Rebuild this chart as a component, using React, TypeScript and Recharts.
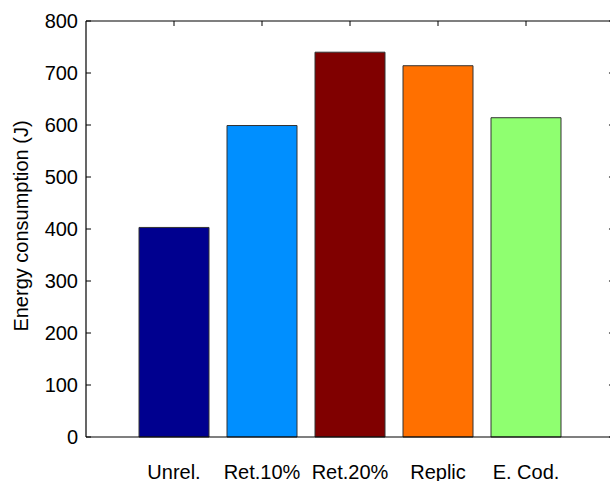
import { ComposedChart, Bar, Cell, XAxis, YAxis, Label, ReferenceLine } from 'recharts';

const categories = ['Unrel.', 'Ret.10%', 'Ret.20%', 'Replic', 'E. Cod.'];
const energy = [403, 599, 740, 714, 614];
const barColors = ['#00008f', '#008fff', '#800000', '#ff7000', '#8fff70'];
const yTicks = [0, 100, 200, 300, 400, 500, 600, 700, 800];
const xTicks = [1, 2, 3, 4, 5];

const data = categories.map((name, i) => ({ pos: i + 1, name, value: energy[i] }));

const FONT = '"Liberation Sans", Arial, Helvetica, sans-serif';
// inward tick length, in axis units (about 5px on each axis)
const X_TICK_LEN = 0.057;
const Y_TICK_LEN = 9.6;

export default function App() {
  return (
    <div style={{ position: 'absolute', left: 0, top: 0, width: 610, height: 481, overflow: 'hidden', background: '#fff' }}>
      <ComposedChart
        width={620}
        height={481}
        data={data}
        margin={{ top: 20, right: 6, bottom: 0, left: 0 }}
        style={{ fontFamily: FONT }}
      >
        <XAxis
          xAxisId="bottom"
          dataKey="pos"
          type="number"
          domain={[0, 6]}
          ticks={xTicks}
          height={44}
          tickSize={0}
          tickMargin={28}
          tickLine={false}
          tickFormatter={(v: number) => categories[v - 1] ?? ''}
          tick={{ fill: '#000', fontSize: 20 }}
          axisLine={{ stroke: '#000', strokeWidth: 1.2 }}
        />
        <XAxis
          xAxisId="top"
          dataKey="pos"
          type="number"
          orientation="top"
          domain={[0, 6]}
          height={1}
          tick={false}
          tickLine={false}
          axisLine={{ stroke: '#000', strokeWidth: 1.2 }}
        />
        <YAxis
          yAxisId="left"
          domain={[0, 800]}
          ticks={yTicks}
          width={86}
          tickSize={0}
          tickMargin={8}
          tickLine={false}
          tick={{ fill: '#000', fontSize: 20 }}
          axisLine={{ stroke: '#000', strokeWidth: 1.2 }}
        >
          <Label
            content={({ viewBox }: any) => (
              <text
                x={viewBox.x + 28}
                y={viewBox.y + viewBox.height / 2 - 3}
                transform={`rotate(-90, ${viewBox.x + 28}, ${viewBox.y + viewBox.height / 2 - 3})`}
                textAnchor="middle"
                fontSize={20}
                fill="#000"
                fontFamily={FONT}
              >
                Energy consumption (J)
              </text>
            )}
          />
        </YAxis>
        <YAxis
          yAxisId="right"
          orientation="right"
          domain={[0, 800]}
          width={0}
          tick={false}
          tickLine={false}
          axisLine={{ stroke: '#000', strokeWidth: 1.2 }}
        />
        <Bar
          xAxisId="bottom"
          yAxisId="left"
          dataKey="value"
          barSize={70}
          stroke="#333"
          strokeWidth={1}
          isAnimationActive={false}
        >
          {data.map((d, i) => (
            <Cell key={d.name} fill={barColors[i]} />
          ))}
        </Bar>
        {/* inward ticks on the left and right frame */}
        {yTicks.map((v) => (
          <ReferenceLine
            key={`l${v}`}
            xAxisId="bottom"
            yAxisId="left"
            segment={[{ x: 0, y: v }, { x: X_TICK_LEN, y: v }]}
            stroke="#000"
            strokeWidth={1}
          />
        ))}
        {yTicks.map((v) => (
          <ReferenceLine
            key={`r${v}`}
            xAxisId="bottom"
            yAxisId="left"
            segment={[{ x: 6, y: v }, { x: 6 - X_TICK_LEN, y: v }]}
            stroke="#000"
            strokeWidth={1}
          />
        ))}
        {/* inward ticks on the top frame */}
        {xTicks.map((t) => (
          <ReferenceLine
            key={`t${t}`}
            xAxisId="bottom"
            yAxisId="left"
            segment={[{ x: t, y: 800 }, { x: t, y: 800 - Y_TICK_LEN }]}
            stroke="#000"
            strokeWidth={1}
          />
        ))}
      </ComposedChart>
    </div>
  );
}
